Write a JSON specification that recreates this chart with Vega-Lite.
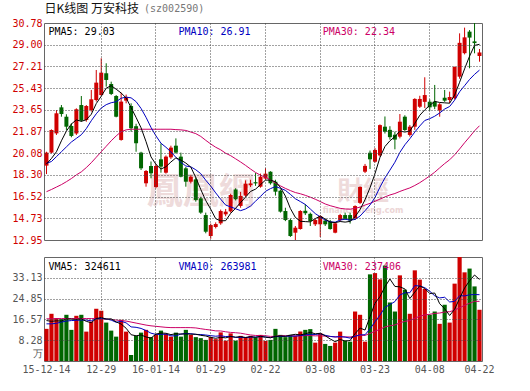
{
"$schema": "https://vega.github.io/schema/vega-lite/v6.json",
"background": "white",
"padding": {"left": 11, "top": 2, "right": 5, "bottom": 5},
"autosize": {"type": "pad"},
"bounds": "flush",
"spacing": 17,
"config": {"view": {"stroke": "#666666", "strokeWidth": 1}, "axis": {"labelOverlap": false, "labelBound": false}, "axisY": {"labelOverlap": false}},
"datasets": {"k": [
{"d":"12-14","o":19.06,"h":20.20,"l":18.37,"c":20.13,"v":12.8,"m5":19.20,"m10":19.25,"m30":16.92,"v5":16.1,"v10":14.8,"v30":16.8},
{"d":"12-15","o":20.13,"h":22.04,"l":20.07,"c":21.99,"v":18.8,"m5":19.65,"m10":19.40,"m30":17.10,"v5":15.8,"v10":14.8,"v30":16.8},
{"d":"12-16","o":21.71,"h":23.63,"l":21.58,"c":23.36,"v":17.1,"m5":20.20,"m10":19.80,"m30":17.30,"v5":16.0,"v10":15.0,"v30":16.9},
{"d":"12-17","o":23.85,"h":24.04,"l":23.08,"c":23.30,"v":16.7,"m5":21.10,"m10":20.20,"m30":17.50,"v5":15.9,"v10":15.5,"v30":16.9},
{"d":"12-18","o":23.08,"h":23.28,"l":21.99,"c":22.26,"v":18.4,"m5":21.90,"m10":20.60,"m30":17.74,"v5":16.76,"v10":15.9,"v30":16.9},
{"d":"12-21","o":22.32,"h":22.54,"l":21.39,"c":21.50,"v":12.4,"m5":22.48,"m10":21.00,"m30":18.00,"v5":16.68,"v10":16.1,"v30":16.9},
{"d":"12-22","o":21.71,"h":23.77,"l":21.58,"c":23.69,"v":18.0,"m5":22.82,"m10":21.30,"m30":18.30,"v5":16.52,"v10":16.2,"v30":16.9},
{"d":"12-23","o":24.04,"h":24.78,"l":22.67,"c":22.76,"v":18.4,"m5":22.70,"m10":21.60,"m30":18.55,"v5":16.78,"v10":16.3,"v30":16.9},
{"d":"12-24","o":22.81,"h":24.04,"l":22.67,"c":23.96,"v":11.7,"m5":22.83,"m10":22.10,"m30":18.90,"v5":15.78,"v10":16.3,"v30":16.9},
{"d":"12-25","o":23.63,"h":25.28,"l":23.50,"c":24.51,"v":15.7,"m5":23.28,"m10":22.75,"m30":19.30,"v5":15.24,"v10":16.00,"v30":16.9},
{"d":"12-28","o":24.45,"h":26.92,"l":24.32,"c":25.88,"v":20.8,"m5":24.16,"m10":23.32,"m30":19.75,"v5":16.92,"v10":16.80,"v30":16.9},
{"d":"12-29","o":24.86,"h":27.88,"l":24.78,"c":26.70,"v":20.0,"m5":24.76,"m10":23.79,"m30":20.20,"v5":17.32,"v10":16.92,"v30":16.8},
{"d":"12-30","o":26.65,"h":27.47,"l":25.55,"c":26.10,"v":15.3,"m5":25.43,"m10":24.07,"m30":20.65,"v5":16.70,"v10":16.74,"v30":16.7},
{"d":"12-31","o":25.77,"h":25.96,"l":24.86,"c":24.95,"v":12.1,"m5":25.63,"m10":24.23,"m30":21.10,"v5":16.78,"v10":16.28,"v30":16.5},
{"d":"01-04","o":24.78,"h":24.86,"l":23.03,"c":23.08,"v":9.7,"m5":25.34,"m10":24.31,"m30":21.50,"v5":15.58,"v10":15.41,"v30":16.3},
{"d":"01-05","o":21.17,"h":25.06,"l":21.11,"c":24.32,"v":16.4,"m5":25.03,"m10":24.60,"m30":21.85,"v5":14.70,"v10":15.81,"v30":16.1},
{"d":"01-06","o":24.40,"h":24.90,"l":24.18,"c":24.67,"v":11.7,"m5":24.62,"m10":24.69,"m30":22.00,"v5":13.04,"v10":15.18,"v30":15.9},
{"d":"01-07","o":23.96,"h":24.18,"l":21.85,"c":22.13,"v":2.4,"m5":23.83,"m10":24.63,"m30":22.05,"v5":10.46,"v10":13.58,"v30":15.5},
{"d":"01-08","o":22.30,"h":22.50,"l":20.20,"c":20.90,"v":10.0,"m5":23.02,"m10":24.32,"m30":22.05,"v5":10.04,"v10":13.41,"v30":15.1},
{"d":"01-11","o":20.13,"h":20.20,"l":18.70,"c":18.84,"v":11.3,"m5":22.17,"m10":23.76,"m30":22.05,"v5":10.36,"v10":12.97,"v30":14.7},
{"d":"01-12","o":17.61,"h":18.70,"l":17.33,"c":18.62,"v":12.4,"m5":21.03,"m10":23.03,"m30":22.05,"v5":9.56,"v10":12.13,"v30":14.3},
{"d":"01-13","o":19.03,"h":19.40,"l":18.02,"c":18.43,"v":9.5,"m5":19.78,"m10":22.20,"m30":22.05,"v5":9.12,"v10":11.08,"v30":14.0},
{"d":"01-14","o":17.30,"h":19.20,"l":17.20,"c":19.03,"v":10.4,"m5":19.16,"m10":21.50,"m30":22.05,"v5":10.72,"v10":10.59,"v30":13.8},
{"d":"01-15","o":19.58,"h":20.89,"l":18.48,"c":18.98,"v":12.1,"m5":18.78,"m10":20.90,"m30":22.05,"v5":11.14,"v10":10.59,"v30":13.6},
{"d":"01-18","o":18.48,"h":19.90,"l":18.40,"c":19.80,"v":10.8,"m5":18.97,"m10":20.57,"m30":22.05,"v5":11.04,"v10":10.70,"v30":13.4},
{"d":"01-19","o":19.74,"h":20.70,"l":19.60,"c":20.54,"v":9.7,"m5":19.36,"m10":20.19,"m30":22.05,"v5":10.50,"v10":10.03,"v30":13.3},
{"d":"01-20","o":20.70,"h":21.30,"l":20.05,"c":20.13,"v":11.3,"m5":19.70,"m10":19.74,"m30":22.02,"v5":10.86,"v10":9.99,"v30":13.3},
{"d":"01-21","o":19.80,"h":20.13,"l":18.10,"c":18.15,"v":9.7,"m5":19.52,"m10":19.34,"m30":22.00,"v5":10.72,"v10":10.72,"v30":13.3},
{"d":"01-22","o":18.84,"h":18.95,"l":17.33,"c":17.74,"v":12.4,"m5":19.27,"m10":19.03,"m30":21.95,"v5":10.78,"v10":10.96,"v30":13.3},
{"d":"01-25","o":17.74,"h":18.30,"l":17.60,"c":18.15,"v":10.4,"m5":18.94,"m10":18.96,"m30":21.82,"v5":10.70,"v10":10.87,"v30":13.28},
{"d":"01-26","o":17.93,"h":18.10,"l":16.10,"c":16.24,"v":9.5,"m5":18.08,"m10":18.72,"m30":21.69,"v5":10.66,"v10":10.58,"v30":13.17},
{"d":"01-27","o":16.37,"h":16.50,"l":15.10,"c":15.20,"v":9.1,"m5":17.10,"m10":18.40,"m30":21.46,"v5":10.22,"v10":10.54,"v30":12.85},
{"d":"01-28","o":15.00,"h":15.20,"l":13.50,"c":13.63,"v":8.4,"m5":16.19,"m10":17.86,"m30":21.14,"v5":9.96,"v10":10.34,"v30":12.56},
{"d":"01-29","o":13.28,"h":14.30,"l":13.05,"c":14.18,"v":9.5,"m5":15.48,"m10":17.38,"m30":20.84,"v5":9.38,"v10":10.08,"v30":12.32},
{"d":"02-01","o":14.02,"h":14.40,"l":13.90,"c":14.26,"v":8.7,"m5":14.70,"m10":16.82,"m30":20.57,"v5":9.04,"v10":9.87,"v30":11.99},
{"d":"02-02","o":14.32,"h":15.45,"l":14.20,"c":15.33,"v":11.4,"m5":14.52,"m10":16.30,"m30":20.36,"v5":9.42,"v10":10.04,"v30":11.96},
{"d":"02-03","o":15.06,"h":15.50,"l":14.90,"c":15.28,"v":8.1,"m5":14.54,"m10":15.82,"m30":20.08,"v5":9.22,"v10":9.72,"v30":11.63},
{"d":"02-04","o":15.30,"h":16.75,"l":15.20,"c":16.65,"v":11.0,"m5":15.14,"m10":15.67,"m30":19.88,"v5":9.74,"v10":9.85,"v30":11.38},
{"d":"02-05","o":17.10,"h":17.20,"l":16.20,"c":16.30,"v":8.1,"m5":15.56,"m10":15.52,"m30":19.62,"v5":9.46,"v10":9.42,"v30":11.26},
{"d":"02-15","o":15.75,"h":16.90,"l":15.60,"c":16.57,"v":10.0,"m5":16.03,"m10":15.36,"m30":19.36,"v5":9.72,"v10":9.38,"v30":11.07},
{"d":"02-16","o":16.60,"h":17.85,"l":16.50,"c":17.58,"v":9.5,"m5":16.48,"m10":15.50,"m30":19.08,"v5":9.34,"v10":9.38,"v30":10.70},
{"d":"02-17","o":17.45,"h":17.90,"l":17.30,"c":17.60,"v":10.0,"m5":16.94,"m10":15.74,"m30":18.78,"v5":9.72,"v10":9.47,"v30":10.36},
{"d":"02-18","o":17.70,"h":18.45,"l":17.40,"c":17.60,"v":9.4,"m5":17.13,"m10":16.14,"m30":18.50,"v5":9.40,"v10":9.57,"v30":10.17},
{"d":"02-19","o":17.33,"h":18.40,"l":17.25,"c":18.15,"v":10.4,"m5":17.50,"m10":16.53,"m30":18.27,"v5":9.86,"v10":9.66,"v30":10.11},
{"d":"02-22","o":18.00,"h":18.85,"l":17.90,"c":18.40,"v":8.0,"m5":17.87,"m10":16.95,"m30":18.11,"v5":9.46,"v10":9.59,"v30":10.05},
{"d":"02-23","o":18.56,"h":18.60,"l":17.50,"c":17.61,"v":8.4,"m5":17.87,"m10":17.17,"m30":17.89,"v5":9.24,"v10":9.29,"v30":9.79},
{"d":"02-24","o":17.74,"h":17.90,"l":16.60,"c":16.92,"v":12.8,"m5":17.74,"m10":17.34,"m30":17.63,"v5":9.80,"v10":9.76,"v30":9.82},
{"d":"02-25","o":17.00,"h":17.10,"l":15.20,"c":15.28,"v":10.4,"m5":17.27,"m10":17.20,"m30":17.40,"v5":10.00,"v10":9.70,"v30":10.09},
{"d":"02-26","o":15.33,"h":15.60,"l":14.50,"c":14.59,"v":9.5,"m5":16.56,"m10":17.03,"m30":17.19,"v5":9.82,"v10":9.84,"v30":10.07},
{"d":"02-29","o":14.59,"h":14.70,"l":13.20,"c":13.28,"v":10.4,"m5":15.54,"m10":16.70,"m30":17.01,"v5":10.30,"v10":9.88,"v30":10.04},
{"d":"03-01","o":13.55,"h":14.10,"l":12.95,"c":13.96,"v":10.0,"m5":14.81,"m10":16.34,"m30":16.85,"v5":10.62,"v10":9.93,"v30":9.96},
{"d":"03-02","o":13.85,"h":15.40,"l":13.80,"c":15.33,"v":11.7,"m5":14.49,"m10":16.11,"m30":16.75,"v5":10.40,"v10":10.10,"v30":10.04},
{"d":"03-03","o":15.35,"h":15.90,"l":15.00,"c":15.15,"v":12.4,"m5":14.46,"m10":15.87,"m30":16.62,"v5":10.80,"v10":10.40,"v30":10.10},
{"d":"03-04","o":15.10,"h":15.20,"l":14.10,"c":14.50,"v":12.7,"m5":14.44,"m10":15.50,"m30":16.47,"v5":11.44,"v10":10.63,"v30":10.12},
{"d":"03-07","o":14.24,"h":14.70,"l":14.10,"c":14.59,"v":7.3,"m5":14.71,"m10":15.12,"m30":16.30,"v5":10.82,"v10":10.56,"v30":10.01},
{"d":"03-08","o":14.24,"h":15.00,"l":13.20,"c":14.92,"v":11.1,"m5":14.90,"m10":14.85,"m30":16.11,"v5":11.04,"v10":10.83,"v30":10.05},
{"d":"03-09","o":14.54,"h":14.70,"l":14.10,"c":14.24,"v":6.8,"m5":14.68,"m10":14.58,"m30":15.91,"v5":10.06,"v10":10.23,"v30":9.90},
{"d":"03-10","o":14.46,"h":14.60,"l":13.80,"c":13.85,"v":6.0,"m5":14.42,"m10":14.44,"m30":15.77,"v5":8.78,"v10":9.79,"v30":9.78},
{"d":"03-11","o":13.55,"h":14.40,"l":13.50,"c":14.32,"v":7.3,"m5":14.38,"m10":14.41,"m30":15.66,"v5":7.70,"v10":9.57,"v30":9.61},
{"d":"03-14","o":14.59,"h":15.10,"l":14.50,"c":15.00,"v":11.7,"m5":14.47,"m10":14.59,"m30":15.55,"v5":8.58,"v10":9.70,"v30":9.65},
{"d":"03-15","o":15.00,"h":15.20,"l":14.60,"c":14.68,"v":8.1,"m5":14.42,"m10":14.66,"m30":15.50,"v5":7.98,"v10":9.51,"v30":9.61},
{"d":"03-16","o":15.00,"h":15.20,"l":14.30,"c":14.55,"v":7.7,"m5":14.48,"m10":14.58,"m30":15.48,"v5":8.16,"v10":9.11,"v30":9.56},
{"d":"03-17","o":14.73,"h":15.80,"l":14.60,"c":15.74,"v":19.7,"m5":14.86,"m10":14.64,"m30":15.55,"v5":10.90,"v10":9.84,"v30":9.94},
{"d":"03-18","o":16.00,"h":17.35,"l":15.90,"c":17.31,"v":18.4,"m5":15.45,"m10":14.92,"m30":15.65,"v5":13.12,"v10":10.41,"v30":10.23},
{"d":"03-21","o":18.56,"h":19.20,"l":18.45,"c":19.04,"v":7.7,"m5":16.26,"m10":15.36,"m30":15.82,"v5":12.32,"v10":10.45,"v30":10.20},
{"d":"03-22","o":20.12,"h":20.30,"l":18.78,"c":19.58,"v":34.5,"m5":17.24,"m10":15.83,"m30":15.96,"v5":17.60,"v10":12.79,"v30":10.97},
{"d":"03-23","o":19.38,"h":20.50,"l":19.30,"c":20.35,"v":35.0,"m5":18.40,"m10":16.44,"m30":16.13,"v5":23.06,"v10":15.61,"v30":11.87},
{"d":"03-24","o":19.90,"h":22.45,"l":19.80,"c":22.39,"v":32.5,"m5":19.73,"m10":17.29,"m30":16.31,"v5":25.62,"v10":18.26,"v30":12.58},
{"d":"03-25","o":22.26,"h":23.10,"l":21.70,"c":21.85,"v":38.0,"m5":20.63,"m10":18.05,"m30":16.49,"v5":29.54,"v10":21.33,"v30":13.58},
{"d":"03-28","o":22.00,"h":22.30,"l":21.20,"c":21.40,"v":23.3,"m5":21.10,"m10":18.69,"m30":16.65,"v5":32.66,"v10":22.49,"v30":14.02},
{"d":"03-29","o":21.60,"h":21.85,"l":20.40,"c":21.20,"v":19.7,"m5":21.44,"m10":19.34,"m30":16.77,"v5":29.70,"v10":23.65,"v30":14.36},
{"d":"03-30","o":21.44,"h":23.30,"l":21.30,"c":22.67,"v":34.1,"m5":21.90,"m10":20.15,"m30":16.94,"v5":29.52,"v10":26.29,"v30":15.17},
{"d":"03-31","o":23.08,"h":23.20,"l":21.90,"c":21.99,"v":28.4,"m5":21.82,"m10":20.77,"m30":17.09,"v5":28.70,"v10":27.16,"v30":15.80},
{"d":"04-01","o":21.58,"h":22.40,"l":21.45,"c":22.26,"v":18.8,"m5":21.90,"m10":21.27,"m30":17.23,"v5":24.86,"v10":27.20,"v30":16.08},
{"d":"04-05","o":22.26,"h":24.60,"l":22.00,"c":24.54,"v":36.1,"m5":22.53,"m10":21.82,"m30":17.43,"v5":27.42,"v10":30.04,"v30":17.02},
{"d":"04-06","o":23.90,"h":24.80,"l":23.80,"c":24.54,"v":32.4,"m5":23.20,"m10":22.32,"m30":17.66,"v5":29.96,"v10":29.83,"v30":17.82},
{"d":"04-07","o":24.30,"h":26.32,"l":23.80,"c":24.86,"v":28.7,"m5":23.64,"m10":22.77,"m30":17.93,"v5":28.88,"v10":29.20,"v30":18.35},
{"d":"04-08","o":24.31,"h":24.50,"l":23.55,"c":23.85,"v":18.4,"m5":24.01,"m10":22.92,"m30":18.21,"v5":26.88,"v10":27.79,"v30":18.61},
{"d":"04-11","o":24.32,"h":25.69,"l":23.70,"c":23.91,"v":19.7,"m5":24.34,"m10":23.12,"m30":18.52,"v5":27.06,"v10":25.96,"v30":18.95},
{"d":"04-12","o":23.60,"h":24.20,"l":23.08,"c":24.10,"v":14.8,"m5":24.25,"m10":23.39,"m30":18.88,"v5":22.80,"v10":25.11,"v30":19.10},
{"d":"04-13","o":24.64,"h":25.28,"l":24.30,"c":24.40,"v":22.4,"m5":24.22,"m10":23.71,"m30":19.23,"v5":20.80,"v10":25.38,"v30":19.51},
{"d":"04-14","o":24.45,"h":25.14,"l":24.20,"c":24.70,"v":15.3,"m5":24.19,"m10":23.92,"m30":19.54,"v5":18.12,"v10":23.50,"v30":19.63},
{"d":"04-15","o":24.60,"h":27.20,"l":24.50,"c":27.17,"v":30.8,"m5":24.86,"m10":24.44,"m30":19.95,"v5":20.60,"v10":23.74,"v30":20.25},
{"d":"04-18","o":26.37,"h":29.93,"l":26.20,"c":29.15,"v":41.4,"m5":25.91,"m10":25.13,"m30":20.43,"v5":24.94,"v10":26.00,"v30":21.20},
{"d":"04-19","o":28.30,"h":30.40,"l":28.20,"c":29.60,"v":35.3,"m5":27.01,"m10":25.63,"m30":20.94,"v5":29.04,"v10":25.92,"v30":22.14},
{"d":"04-20","o":30.07,"h":30.20,"l":27.06,"c":29.58,"v":36.8,"m5":28.05,"m10":26.14,"m30":21.42,"v5":31.92,"v10":26.36,"v30":22.99},
{"d":"04-21","o":29.27,"h":30.78,"l":28.29,"c":29.13,"v":29.7,"m5":28.94,"m10":26.56,"m30":21.92,"v5":34.24,"v10":26.46,"v30":23.76},
{"d":"04-22","o":28.07,"h":28.64,"l":27.60,"c":28.36,"v":20.4,"m5":29.03,"m10":26.91,"m30":22.34,"v5":32.46,"v10":26.40,"v30":23.74}
]},
"data": {"name": "k"},
"vconcat": [
{
 "width": 438, "height": 217,
 "encoding": {"x": {"field": "d", "type": "ordinal", "sort": null, "title": null,
   "scale": {"paddingInner": 0, "paddingOuter": 0, "domain": ["12-14","12-15","12-16","12-17","12-18","12-21","12-22","12-23","12-24","12-25","12-28","12-29","12-30","12-31","01-04","01-05","01-06","01-07","01-08","01-11","01-12","01-13","01-14","01-15","01-18","01-19","01-20","01-21","01-22","01-25","01-26","01-27","01-28","01-29","02-01","02-02","02-03","02-04","02-05","02-15","02-16","02-17","02-18","02-19","02-22","02-23","02-24","02-25","02-26","02-29","03-01","03-02","03-03","03-04","03-07","03-08","03-09","03-10","03-11","03-14","03-15","03-16","03-17","03-18","03-21","03-22","03-23","03-24","03-25","03-28","03-29","03-30","03-31","04-01","04-05","04-06","04-07","04-08","04-11","04-12","04-13","04-14","04-15","04-18","04-19","04-20","04-21","04-22"]},
   "axis": {"values": ["12-14","12-29","01-14","01-29","02-22","03-08","03-23","04-08","04-22"], "labels": false, "ticks": false, "domain": false, "grid": true, "bandPosition": 0.5, "gridColor": "#444444", "gridDash": [1,2], "gridOpacity": {"condition": {"test": "datum.value == '12-14' || datum.value == '04-22'", "value": 0}, "value": 1}, "zindex": 1, "title": null, "minExtent": 0, "maxExtent": 0}}},
 "layer": [
  {"data": {"values": [{}]},
   "mark": {"type": "text", "font": "Noto Sans CJK TC", "fontSize": 36, "fontWeight": "bold", "color": "#e8cccc", "opacity": 0.7, "align": "center", "baseline": "middle"},
   "encoding": {"x": {"datum": "01-27", "type": "ordinal"}, "y": {"datum": 16.8, "type": "quantitative", "axis": {"values": [12.95,14.73,16.52,18.30,20.08,21.87,23.65,25.43,27.21,29.00,30.78], "format": ".2f", "labelColor": "#d00000", "labelFont": "DejaVu Sans Mono", "labelFontSize": 10, "labelPadding": 2, "ticks": false, "domain": false, "grid": true, "gridColor": "#444444", "gridDash": [1,2], "gridOpacity": {"condition": {"test": "datum.value < 13 || datum.value > 30.7", "value": 0}, "value": 1}, "labelOverlap": false, "labelSeparation": -30, "labelBound": false, "labelFlush": false, "zindex": 1, "title": null}}, "text": {"value": "鳳凰網"}}},
  {"data": {"values": [{}]},
   "mark": {"type": "text", "font": "Noto Sans CJK TC", "fontSize": 26, "fontWeight": "bold", "color": "#e8cccc", "opacity": 0.7, "align": "center", "baseline": "middle", "dx": -2},
   "encoding": {"x": {"datum": "03-21", "type": "ordinal"}, "y": {"datum": 16.9, "type": "quantitative", "axis": {"values": [12.95,14.73,16.52,18.30,20.08,21.87,23.65,25.43,27.21,29.00,30.78], "format": ".2f", "labelColor": "#d00000", "labelFont": "DejaVu Sans Mono", "labelFontSize": 10, "labelPadding": 2, "ticks": false, "domain": false, "grid": true, "gridColor": "#444444", "gridDash": [1,2], "gridOpacity": {"condition": {"test": "datum.value < 13 || datum.value > 30.7", "value": 0}, "value": 1}, "labelOverlap": false, "labelSeparation": -30, "labelBound": false, "labelFlush": false, "zindex": 1, "title": null}}, "text": {"value": "財經"}}},
  {"data": {"values": [{}]},
   "mark": {"type": "text", "font": "DejaVu Sans", "fontSize": 8, "fontWeight": "bold", "color": "#e8cccc", "opacity": 0.8, "align": "center", "baseline": "middle", "dx": -2},
   "encoding": {"x": {"datum": "03-21", "type": "ordinal"}, "y": {"datum": 15.36, "type": "quantitative", "axis": {"values": [12.95,14.73,16.52,18.30,20.08,21.87,23.65,25.43,27.21,29.00,30.78], "format": ".2f", "labelColor": "#d00000", "labelFont": "DejaVu Sans Mono", "labelFontSize": 10, "labelPadding": 2, "ticks": false, "domain": false, "grid": true, "gridColor": "#444444", "gridDash": [1,2], "gridOpacity": {"condition": {"test": "datum.value < 13 || datum.value > 30.7", "value": 0}, "value": 1}, "labelOverlap": false, "labelSeparation": -30, "labelBound": false, "labelFlush": false, "zindex": 1, "title": null}}, "text": {"value": "finance.ifeng.com"}}},
  {"mark": {"type": "rule", "strokeWidth": 1},
   "encoding": {
    "y": {"field": "l", "type": "quantitative", "title": null,
      "scale": {"domain": [12.95, 30.78], "nice": false, "zero": false},
      "axis": {"values": [12.95,14.73,16.52,18.30,20.08,21.87,23.65,25.43,27.21,29.00,30.78], "format": ".2f", "labelColor": "#d00000", "labelFont": "DejaVu Sans Mono", "labelFontSize": 10, "labelPadding": 2, "ticks": false, "domain": false, "grid": true, "gridColor": "#444444", "gridDash": [1,2], "gridOpacity": {"condition": {"test": "datum.value < 13 || datum.value > 30.7", "value": 0}, "value": 1}, "labelOverlap": false, "labelSeparation": -30, "labelBound": false, "labelFlush": false, "zindex": 1, "title": null}},
    "y2": {"field": "h"},
    "color": {"condition": {"test": "datum.c >= datum.o", "value": "#d00000"}, "value": "#006600"}}},
  {"mark": {"type": "bar", "width": {"band": 0.8}},
   "encoding": {
    "y": {"field": "o", "type": "quantitative", "title": null, "axis": {"values": [12.95,14.73,16.52,18.30,20.08,21.87,23.65,25.43,27.21,29.00,30.78], "format": ".2f", "labelColor": "#d00000", "labelFont": "DejaVu Sans Mono", "labelFontSize": 10, "labelPadding": 2, "ticks": false, "domain": false, "grid": true, "gridColor": "#444444", "gridDash": [1,2], "gridOpacity": {"condition": {"test": "datum.value < 13 || datum.value > 30.7", "value": 0}, "value": 1}, "labelOverlap": false, "labelSeparation": -30, "labelBound": false, "labelFlush": false, "zindex": 1, "title": null}},
    "y2": {"field": "c"},
    "color": {"condition": {"test": "datum.c >= datum.o", "value": "#d00000"}, "value": "#006600"}}},
  {"mark": {"type": "line", "color": "#cc0066", "strokeWidth": 1},
   "encoding": {"y": {"field": "m30", "type": "quantitative", "title": null, "axis": {"values": [12.95,14.73,16.52,18.30,20.08,21.87,23.65,25.43,27.21,29.00,30.78], "format": ".2f", "labelColor": "#d00000", "labelFont": "DejaVu Sans Mono", "labelFontSize": 10, "labelPadding": 2, "ticks": false, "domain": false, "grid": true, "gridColor": "#444444", "gridDash": [1,2], "gridOpacity": {"condition": {"test": "datum.value < 13 || datum.value > 30.7", "value": 0}, "value": 1}, "labelOverlap": false, "labelSeparation": -30, "labelBound": false, "labelFlush": false, "zindex": 1, "title": null}}}},
  {"mark": {"type": "line", "color": "#0000c0", "strokeWidth": 1},
   "encoding": {"y": {"field": "m10", "type": "quantitative", "title": null, "axis": {"values": [12.95,14.73,16.52,18.30,20.08,21.87,23.65,25.43,27.21,29.00,30.78], "format": ".2f", "labelColor": "#d00000", "labelFont": "DejaVu Sans Mono", "labelFontSize": 10, "labelPadding": 2, "ticks": false, "domain": false, "grid": true, "gridColor": "#444444", "gridDash": [1,2], "gridOpacity": {"condition": {"test": "datum.value < 13 || datum.value > 30.7", "value": 0}, "value": 1}, "labelOverlap": false, "labelSeparation": -30, "labelBound": false, "labelFlush": false, "zindex": 1, "title": null}}}},
  {"mark": {"type": "line", "color": "#000000", "strokeWidth": 1},
   "encoding": {"y": {"field": "m5", "type": "quantitative", "title": null, "axis": {"values": [12.95,14.73,16.52,18.30,20.08,21.87,23.65,25.43,27.21,29.00,30.78], "format": ".2f", "labelColor": "#d00000", "labelFont": "DejaVu Sans Mono", "labelFontSize": 10, "labelPadding": 2, "ticks": false, "domain": false, "grid": true, "gridColor": "#444444", "gridDash": [1,2], "gridOpacity": {"condition": {"test": "datum.value < 13 || datum.value > 30.7", "value": 0}, "value": 1}, "labelOverlap": false, "labelSeparation": -30, "labelBound": false, "labelFlush": false, "zindex": 1, "title": null}}}},
  {"data": {"values": [{}]},
   "mark": {"type": "text", "font": "DejaVu Sans Mono", "fontSize": 10, "color": "#000000", "align": "left", "baseline": "middle", "dx": 2},
   "encoding": {"x": {"datum": "12-14", "type": "ordinal"}, "y": {"datum": 30.04, "type": "quantitative", "axis": {"values": [12.95,14.73,16.52,18.30,20.08,21.87,23.65,25.43,27.21,29.00,30.78], "format": ".2f", "labelColor": "#d00000", "labelFont": "DejaVu Sans Mono", "labelFontSize": 10, "labelPadding": 2, "ticks": false, "domain": false, "grid": true, "gridColor": "#444444", "gridDash": [1,2], "gridOpacity": {"condition": {"test": "datum.value < 13 || datum.value > 30.7", "value": 0}, "value": 1}, "labelOverlap": false, "labelSeparation": -30, "labelBound": false, "labelFlush": false, "zindex": 1, "title": null}}, "text": {"value": "PMA5: 29.03"}}},
  {"data": {"values": [{}]},
   "mark": {"type": "text", "font": "DejaVu Sans Mono", "fontSize": 10, "color": "#0000c0", "align": "left", "baseline": "middle", "dx": -2.5},
   "encoding": {"x": {"datum": "01-21", "type": "ordinal"}, "y": {"datum": 30.04, "type": "quantitative", "axis": {"values": [12.95,14.73,16.52,18.30,20.08,21.87,23.65,25.43,27.21,29.00,30.78], "format": ".2f", "labelColor": "#d00000", "labelFont": "DejaVu Sans Mono", "labelFontSize": 10, "labelPadding": 2, "ticks": false, "domain": false, "grid": true, "gridColor": "#444444", "gridDash": [1,2], "gridOpacity": {"condition": {"test": "datum.value < 13 || datum.value > 30.7", "value": 0}, "value": 1}, "labelOverlap": false, "labelSeparation": -30, "labelBound": false, "labelFlush": false, "zindex": 1, "title": null}}, "text": {"value": "PMA10: 26.91"}}},
  {"data": {"values": [{}]},
   "mark": {"type": "text", "font": "DejaVu Sans Mono", "fontSize": 10, "color": "#cc0066", "align": "left", "baseline": "middle", "dx": -2.5},
   "encoding": {"x": {"datum": "03-09", "type": "ordinal"}, "y": {"datum": 30.04, "type": "quantitative", "axis": {"values": [12.95,14.73,16.52,18.30,20.08,21.87,23.65,25.43,27.21,29.00,30.78], "format": ".2f", "labelColor": "#d00000", "labelFont": "DejaVu Sans Mono", "labelFontSize": 10, "labelPadding": 2, "ticks": false, "domain": false, "grid": true, "gridColor": "#444444", "gridDash": [1,2], "gridOpacity": {"condition": {"test": "datum.value < 13 || datum.value > 30.7", "value": 0}, "value": 1}, "labelOverlap": false, "labelSeparation": -30, "labelBound": false, "labelFlush": false, "zindex": 1, "title": null}}, "text": {"value": "PMA30: 22.34"}}},
  {"data": {"values": [{}]},
   "mark": {"type": "text", "font": "Noto Sans CJK SC", "fontSize": 12, "color": "#111111", "align": "left", "baseline": "middle", "dx": -2},
   "encoding": {"x": {"datum": "12-14", "type": "ordinal"}, "y": {"datum": 31.97, "type": "quantitative", "axis": {"values": [12.95,14.73,16.52,18.30,20.08,21.87,23.65,25.43,27.21,29.00,30.78], "format": ".2f", "labelColor": "#d00000", "labelFont": "DejaVu Sans Mono", "labelFontSize": 10, "labelPadding": 2, "ticks": false, "domain": false, "grid": true, "gridColor": "#444444", "gridDash": [1,2], "gridOpacity": {"condition": {"test": "datum.value < 13 || datum.value > 30.7", "value": 0}, "value": 1}, "labelOverlap": false, "labelSeparation": -30, "labelBound": false, "labelFlush": false, "zindex": 1, "title": null}}, "text": {"value": "日K线图 万安科技"}}},
  {"data": {"values": [{}]},
   "mark": {"type": "text", "font": "DejaVu Sans Mono", "fontSize": 10, "color": "#777777", "align": "left", "baseline": "middle", "dx": -2},
   "encoding": {"x": {"datum": "01-12", "type": "ordinal"}, "y": {"datum": 31.97, "type": "quantitative", "axis": {"values": [12.95,14.73,16.52,18.30,20.08,21.87,23.65,25.43,27.21,29.00,30.78], "format": ".2f", "labelColor": "#d00000", "labelFont": "DejaVu Sans Mono", "labelFontSize": 10, "labelPadding": 2, "ticks": false, "domain": false, "grid": true, "gridColor": "#444444", "gridDash": [1,2], "gridOpacity": {"condition": {"test": "datum.value < 13 || datum.value > 30.7", "value": 0}, "value": 1}, "labelOverlap": false, "labelSeparation": -30, "labelBound": false, "labelFlush": false, "zindex": 1, "title": null}}, "text": {"value": "(sz002590)"}}}
 ]
},
{
 "width": 438, "height": 104,
 "encoding": {"x": {"field": "d", "type": "ordinal", "sort": null, "title": null,
   "scale": {"paddingInner": 0, "paddingOuter": 0, "domain": ["12-14","12-15","12-16","12-17","12-18","12-21","12-22","12-23","12-24","12-25","12-28","12-29","12-30","12-31","01-04","01-05","01-06","01-07","01-08","01-11","01-12","01-13","01-14","01-15","01-18","01-19","01-20","01-21","01-22","01-25","01-26","01-27","01-28","01-29","02-01","02-02","02-03","02-04","02-05","02-15","02-16","02-17","02-18","02-19","02-22","02-23","02-24","02-25","02-26","02-29","03-01","03-02","03-03","03-04","03-07","03-08","03-09","03-10","03-11","03-14","03-15","03-16","03-17","03-18","03-21","03-22","03-23","03-24","03-25","03-28","03-29","03-30","03-31","04-01","04-05","04-06","04-07","04-08","04-11","04-12","04-13","04-14","04-15","04-18","04-19","04-20","04-21","04-22"]},
   "axis": {"values": ["12-14","12-29","01-14","01-29","02-22","03-08","03-23","04-08","04-22"], "labelExpr": "datum.value == '12-14' ? '15-12-14' : (datum.value == '01-14' ? '16-01-14' : datum.value)", "labelAngle": 0, "labelColor": "#555555", "labelFont": "DejaVu Sans Mono", "labelFontSize": 10, "labelPadding": 3, "labelOverlap": false, "labelBound": false, "ticks": false, "domain": false, "grid": true, "bandPosition": 0.5, "gridColor": "#444444", "gridDash": [1,2], "gridOpacity": {"condition": {"test": "datum.value == '12-14' || datum.value == '04-22'", "value": 0}, "value": 1}, "zindex": 1, "title": null}}},
 "layer": [
  {"mark": {"type": "bar", "width": {"band": 0.84}},
   "encoding": {
    "y": {"field": "v", "type": "quantitative", "title": null,
      "scale": {"domain": [0, 41.41], "nice": false},
      "axis": {"values": [3.1, 8.28, 16.57, 24.85, 33.13], "labelExpr": "datum.value < 5 ? '万' : format(datum.value, '.2f')", "labelColor": "#555555", "labelFont": "DejaVu Sans Mono", "labelFontSize": 10, "labelPadding": 2, "ticks": false, "domain": false, "grid": true, "gridColor": "#444444", "gridDash": [1,2], "gridOpacity": {"condition": {"test": "datum.value < 5", "value": 0}, "value": 1}, "labelOverlap": false, "labelSeparation": -30, "labelBound": false, "labelFlush": false, "zindex": 1, "title": null}},
    "color": {"condition": {"test": "datum.c >= datum.o", "value": "#d00000"}, "value": "#006600"}}},
  {"mark": {"type": "line", "color": "#cc0066", "strokeWidth": 1},
   "encoding": {"y": {"field": "v30", "type": "quantitative", "title": null, "axis": {"values": [3.1, 8.28, 16.57, 24.85, 33.13], "labelExpr": "datum.value < 5 ? '万' : format(datum.value, '.2f')", "labelColor": "#555555", "labelFont": "DejaVu Sans Mono", "labelFontSize": 10, "labelPadding": 2, "ticks": false, "domain": false, "grid": true, "gridColor": "#444444", "gridDash": [1,2], "gridOpacity": {"condition": {"test": "datum.value < 5", "value": 0}, "value": 1}, "labelOverlap": false, "labelSeparation": -30, "labelBound": false, "labelFlush": false, "zindex": 1, "title": null}}}},
  {"mark": {"type": "line", "color": "#0000c0", "strokeWidth": 1},
   "encoding": {"y": {"field": "v10", "type": "quantitative", "title": null, "axis": {"values": [3.1, 8.28, 16.57, 24.85, 33.13], "labelExpr": "datum.value < 5 ? '万' : format(datum.value, '.2f')", "labelColor": "#555555", "labelFont": "DejaVu Sans Mono", "labelFontSize": 10, "labelPadding": 2, "ticks": false, "domain": false, "grid": true, "gridColor": "#444444", "gridDash": [1,2], "gridOpacity": {"condition": {"test": "datum.value < 5", "value": 0}, "value": 1}, "labelOverlap": false, "labelSeparation": -30, "labelBound": false, "labelFlush": false, "zindex": 1, "title": null}}}},
  {"mark": {"type": "line", "color": "#000000", "strokeWidth": 1},
   "encoding": {"y": {"field": "v5", "type": "quantitative", "title": null, "axis": {"values": [3.1, 8.28, 16.57, 24.85, 33.13], "labelExpr": "datum.value < 5 ? '万' : format(datum.value, '.2f')", "labelColor": "#555555", "labelFont": "DejaVu Sans Mono", "labelFontSize": 10, "labelPadding": 2, "ticks": false, "domain": false, "grid": true, "gridColor": "#444444", "gridDash": [1,2], "gridOpacity": {"condition": {"test": "datum.value < 5", "value": 0}, "value": 1}, "labelOverlap": false, "labelSeparation": -30, "labelBound": false, "labelFlush": false, "zindex": 1, "title": null}}}},
  {"data": {"values": [{}]},
   "mark": {"type": "text", "font": "DejaVu Sans Mono", "fontSize": 10, "color": "#000000", "align": "left", "baseline": "middle", "dx": 2},
   "encoding": {"x": {"datum": "12-14", "type": "ordinal"}, "y": {"datum": 37.6, "type": "quantitative", "axis": {"values": [3.1, 8.28, 16.57, 24.85, 33.13], "labelExpr": "datum.value < 5 ? '万' : format(datum.value, '.2f')", "labelColor": "#555555", "labelFont": "DejaVu Sans Mono", "labelFontSize": 10, "labelPadding": 2, "ticks": false, "domain": false, "grid": true, "gridColor": "#444444", "gridDash": [1,2], "gridOpacity": {"condition": {"test": "datum.value < 5", "value": 0}, "value": 1}, "labelOverlap": false, "labelSeparation": -30, "labelBound": false, "labelFlush": false, "zindex": 1, "title": null}}, "text": {"value": "VMA5: 324611"}}},
  {"data": {"values": [{}]},
   "mark": {"type": "text", "font": "DejaVu Sans Mono", "fontSize": 10, "color": "#0000c0", "align": "left", "baseline": "middle", "dx": -2.5},
   "encoding": {"x": {"datum": "01-21", "type": "ordinal"}, "y": {"datum": 37.6, "type": "quantitative", "axis": {"values": [3.1, 8.28, 16.57, 24.85, 33.13], "labelExpr": "datum.value < 5 ? '万' : format(datum.value, '.2f')", "labelColor": "#555555", "labelFont": "DejaVu Sans Mono", "labelFontSize": 10, "labelPadding": 2, "ticks": false, "domain": false, "grid": true, "gridColor": "#444444", "gridDash": [1,2], "gridOpacity": {"condition": {"test": "datum.value < 5", "value": 0}, "value": 1}, "labelOverlap": false, "labelSeparation": -30, "labelBound": false, "labelFlush": false, "zindex": 1, "title": null}}, "text": {"value": "VMA10: 263981"}}},
  {"data": {"values": [{}]},
   "mark": {"type": "text", "font": "DejaVu Sans Mono", "fontSize": 10, "color": "#cc0066", "align": "left", "baseline": "middle", "dx": -2.5},
   "encoding": {"x": {"datum": "03-09", "type": "ordinal"}, "y": {"datum": 37.6, "type": "quantitative", "axis": {"values": [3.1, 8.28, 16.57, 24.85, 33.13], "labelExpr": "datum.value < 5 ? '万' : format(datum.value, '.2f')", "labelColor": "#555555", "labelFont": "DejaVu Sans Mono", "labelFontSize": 10, "labelPadding": 2, "ticks": false, "domain": false, "grid": true, "gridColor": "#444444", "gridDash": [1,2], "gridOpacity": {"condition": {"test": "datum.value < 5", "value": 0}, "value": 1}, "labelOverlap": false, "labelSeparation": -30, "labelBound": false, "labelFlush": false, "zindex": 1, "title": null}}, "text": {"value": "VMA30: 237406"}}}
 ]
}
]
}
